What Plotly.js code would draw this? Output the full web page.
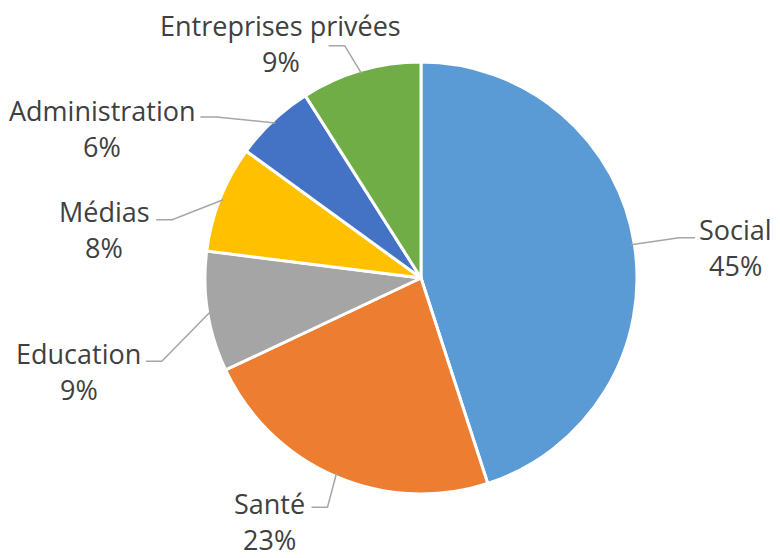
<!DOCTYPE html>
<html><head><meta charset="utf-8">
<script src="https://cdn.plot.ly/plotly-3.0.1.min.js"></script>
<style>html,body{margin:0;padding:0;background:#fff}</style>
</head><body>
<div id="chart" style="width:780px;height:558px"></div>
<script>
// ---- data ----
const categories = ["Social", "Santé", "Education", "Médias", "Administration", "Entreprises privées"];
const values = [45, 23, 9, 8, 6, 9];
const colors = ["#5B9BD5", "#ED7D31", "#A5A5A5", "#FFC000", "#4472C4", "#70AD47"];

// ---- label placement (pixels, relative to slice edge / label centre) ----
const labelOffset = [[104, 3], [-67, 48], [-132, 60], [-119, 30], [-173, 6], [-81, -30]];
const leaderEnd   = [[-40, -10], [42, -14], [67, -10], [52, -10], [98, -12], [48, 2]];
const lineGap = 36;

const W = 780, H = 558, cx = 421, cy = 278, R = 216;
const total = values.reduce((a, b) => a + b, 0);
const px = x => x / W, py = y => 1 - y / H;
const textFont = {family: "Open Sans, sans-serif", size: 27, color: "#404040"};

const annotations = [], shapes = [];
let cum = 0;
values.forEach((v, i) => {
  const theta = 2 * Math.PI * (cum + v / 2) / total;
  cum += v;
  const ex = cx + R * 0.985 * Math.sin(theta), ey = cy - R * 0.985 * Math.cos(theta);
  const lx = ex + labelOffset[i][0], ly = ey + labelOffset[i][1];
  [categories[i], Math.round(v / total * 100) + "%"].forEach((t, k) => {
    annotations.push({
      xref: "paper", yref: "paper", x: px(lx), y: py(ly + (k - 0.5) * lineGap),
      xanchor: "center", yanchor: "middle", showarrow: false, align: "center",
      text: t, font: textFont
    });
  });
  const qx = lx + leaderEnd[i][0], qy = ly + leaderEnd[i][1];
  const dir = ex > qx ? 1 : -1;
  const bx = qx + dir * 16;
  shapes.push({
    type: "path", xref: "paper", yref: "paper",
    path: `M ${px(qx)} ${py(qy)} L ${px(bx)} ${py(qy)} L ${px(ex)} ${py(ey)}`,
    line: {color: "#A6A6A6", width: 1.5}
  });
});

const trace = {
  type: "pie",
  labels: categories,
  values: values,
  sort: false,
  direction: "clockwise",
  rotation: 0,
  marker: {colors: colors, line: {color: "#ffffff", width: 3}},
  textinfo: "none",
  hoverinfo: "label+percent",
  automargin: false,
  domain: {x: [(cx - R) / W, (cx + R) / W], y: [(H - cy - R) / H, (H - cy + R) / H]}
};
const layout = {
  width: W, height: H,
  margin: {l: 0, r: 0, t: 0, b: 0},
  showlegend: false,
  paper_bgcolor: "#ffffff",
  font: {family: "Open Sans, sans-serif", color: "#404040"},
  annotations: annotations,
  shapes: shapes
};
Plotly.newPlot("chart", [trace], layout, {displayModeBar: false, staticPlot: true});
</script>
</body></html>
